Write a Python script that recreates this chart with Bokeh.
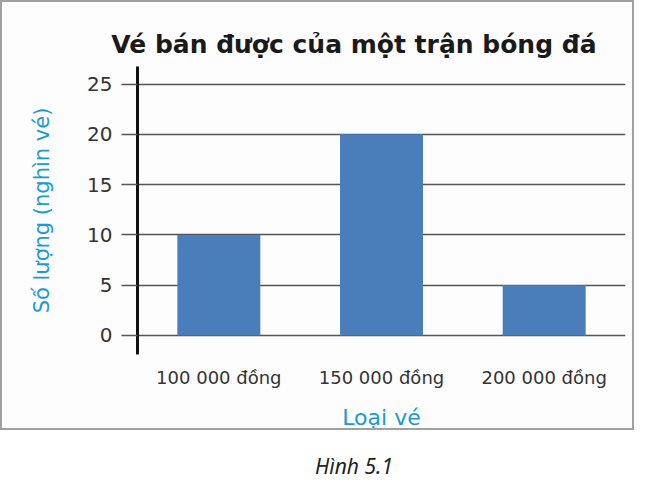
from bokeh.plotting import figure
from bokeh.models import Range1d, FixedTicker, Div
from bokeh.layouts import column
from bokeh.embed import file_html
from bokeh.resources import INLINE

categories = ["100 000 đồng", "150 000 đồng", "200 000 đồng"]
values = [10, 20, 5]
y_ticks = [0, 5, 10, 15, 20, 25]
title_text = "Vé bán được của một trận bóng đá"
x_label = "Loại vé"
y_label = "Số lượng (nghìn vé)"
caption = "Hình 5.1"

FONT = "DejaVu Sans"

p = figure(x_range=categories, y_range=Range1d(-1.89, 26.74),
           width=634, height=430, output_backend="svg", toolbar_location=None,
           min_border_left=135, min_border_right=11, min_border_top=64,
           min_border_bottom=78, title=title_text)
p.x_range.range_padding = 0
p.vbar(x=categories, top=values, bottom=0, width=0.51, color="#4A7EBB", line_color=None)

p.title.align = "right"
p.title.offset = 29
p.title.standoff = 16
p.title.text_font = FONT
p.title.text_font_style = "bold"
p.title.text_font_size = "25px"
p.title.text_color = "#1a1a1a"

p.background_fill_color = "#fdfdfd"
p.border_fill_color = "#fdfdfd"
p.outline_line_color = None
p.xgrid.grid_line_color = None
p.ygrid.grid_line_color = "#555555"
p.ygrid.grid_line_width = 1.5
p.yaxis.ticker = FixedTicker(ticks=y_ticks)
p.yaxis.minor_tick_line_color = None
p.yaxis.major_tick_in = 0
p.yaxis.major_tick_out = 16
p.yaxis.major_tick_line_color = "#555555"
p.yaxis.major_tick_line_width = 1.5
p.yaxis.axis_line_color = "#111111"
p.yaxis.axis_line_width = 3
p.yaxis.major_label_standoff = 9
p.yaxis.major_label_text_font = FONT
p.yaxis.major_label_text_font_size = "20px"
p.yaxis.major_label_text_color = "#333333"
p.yaxis.axis_label = y_label
p.yaxis.axis_label_text_font = FONT
p.yaxis.axis_label_text_font_style = "normal"
p.yaxis.axis_label_text_font_size = "21px"
p.yaxis.axis_label_text_color = "#1A9AD6"
p.yaxis.axis_label_standoff = 30

p.xaxis.axis_line_color = None
p.xaxis.major_tick_line_color = None
p.xaxis.minor_tick_line_color = None
p.xaxis.major_tick_out = 0
p.xaxis.major_label_standoff = 12
p.xaxis.major_label_text_font = FONT
p.xaxis.major_label_text_font_size = "18px"
p.xaxis.major_label_text_color = "#333333"
p.xaxis.axis_label = x_label
p.xaxis.axis_label_text_font = FONT
p.xaxis.axis_label_text_font_style = "normal"
p.xaxis.axis_label_text_font_size = "22px"
p.xaxis.axis_label_text_color = "#1A9AD6"
p.xaxis.axis_label_standoff = 14

p.styles = {"border": "2px solid #a0a0a0", "box-sizing": "border-box"}

cap = Div(text=caption, width=634, height=40,
          styles={"font-family": "Noto Sans", "font-style": "italic",
                  "font-size": "21px", "color": "#222222",
                  "text-align": "center", "padding-left": "64px",
                  "padding-top": "16px", "box-sizing": "border-box",
                  "width": "634px"})

layout = column(p, cap, spacing=0)
open("out.html", "w").write(file_html(layout, INLINE))
